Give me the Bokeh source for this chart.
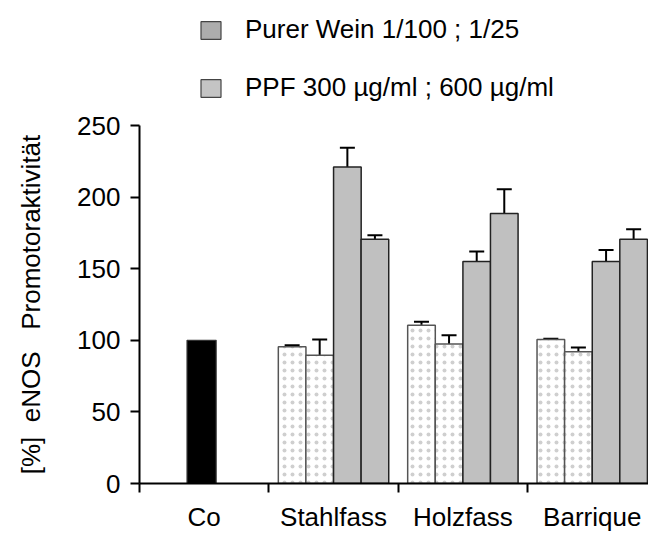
from bokeh.plotting import figure
from bokeh.layouts import column
from bokeh.models import (ColumnDataSource, Range1d, FixedTicker, Whisker, TeeHead,
                          Legend, LegendItem)
from bokeh.embed import file_html
from bokeh.resources import INLINE

# ---------------- data ----------------
categories = ["Co", "Stahlfass", "Holzfass", "Barrique"]
co_value = [100]
wein_groups = ["Stahlfass", "Holzfass", "Barrique"]
wein_1_100 = [95.5, 110.5, 100.5]
wein_1_100_err = [1.0, 2.5, 0.5]
wein_1_25 = [89.5, 97.5, 92.0]
wein_1_25_err = [11.0, 6.0, 3.0]
ppf_300 = [221.0, 155.0, 155.0]
ppf_300_err = [13.5, 7.0, 8.0]
ppf_600 = [170.5, 188.5, 170.5]
ppf_600_err = [2.8, 17.0, 7.0]
y_ticks = [0, 50, 100, 150, 200, 250]
legend_labels = ["Purer Wein 1/100 ; 1/25", "PPF 300 \u00b5g/ml ; 600 \u00b5g/ml"]
y_label = "[%]\u00a0 eNOS \u00a0\u00a0Promotoraktivit\u00e4t"

FONT = "Liberation Sans"

# ---------------- layout helpers ----------------
bar_w = 0.2135
offsets = [-0.32, -0.107, 0.107, 0.32]
grp_idx = [categories.index(g) + 0.5 for g in wein_groups]

# ---------------- legend strip ----------------
leg = figure(width=648, height=110, output_backend="svg", toolbar_location=None,
             x_range=Range1d(0, 1), y_range=Range1d(0, 1),
             x_axis_type=None, y_axis_type=None,
             min_border_left=0, min_border_right=0, min_border_top=0, min_border_bottom=0)
leg.outline_line_color = None
leg.xgrid.visible = False
leg.ygrid.visible = False
leg.background_fill_color = "white"
leg.border_fill_color = "white"
nan = float("nan")
r1 = leg.vbar(x=[0.5], top=[nan], width=0.2, fill_color="#adadad", line_color="#444444",
              line_width=1.2)
r2 = leg.vbar(x=[0.5], top=[nan], width=0.2, fill_color="#c4c4c4", line_color="#444444",
              line_width=1.2)
legend = Legend(items=[LegendItem(label=legend_labels[0], renderers=[r1]),
                       LegendItem(label=legend_labels[1], renderers=[r2])],
                location=(59, 7), glyph_width=25, glyph_height=22, label_standoff=22,
                spacing=27, padding=0, margin=0, border_line_color=None,
                background_fill_alpha=0, label_text_font=FONT, label_text_font_size="26px",
                label_text_color="black")
leg.add_layout(legend)

# ---------------- main chart ----------------
p = figure(width=648, height=424, output_backend="svg", toolbar_location=None,
           x_range=Range1d(0, 3.935), y_range=Range1d(0, 250),
           min_border_left=139, min_border_right=0, min_border_top=15,
           min_border_bottom=50)
p.outline_line_color = None
p.xgrid.visible = False
p.ygrid.visible = False
p.background_fill_color = "white"
p.border_fill_color = "white"

# Co bar
co_x = [categories.index("Co") + 0.5 - 0.02]
p.vbar(x=co_x, top=co_value, width=0.225, fill_color="black", line_color="#333333",
       line_width=1.2)

series = [
    (wein_1_100, wein_1_100_err, "white", "#555555", True),
    (wein_1_25, wein_1_25_err, "white", "#555555", True),
    (ppf_300, ppf_300_err, "#c0c0c0", "#222222", False),
    (ppf_600, ppf_600_err, "#c0c0c0", "#222222", False),
]
for k, (vals, errs, fc, lc, hatched) in enumerate(series):
    xs = [g + offsets[k] for g in grp_idx]
    src = ColumnDataSource(dict(x=xs, top=vals, upper=[v + e for v, e in zip(vals, errs)]))
    kw = dict(fill_color=fc, line_color=lc, line_width=1.5)
    if hatched:
        kw.update(hatch_pattern="dot", hatch_color="#cfcfcf", hatch_scale=8, hatch_weight=0.5)
    p.vbar(x="x", top="top", width=bar_w, source=src, **kw)
    w = Whisker(source=src, base="x", lower="top", upper="upper", dimension="height",
                lower_head=None, upper_head=TeeHead(size=15, line_width=2, line_color="black"),
                line_width=2, line_color="black")
    p.add_layout(w)

# y axis
ya = p.yaxis[0]
ya.ticker = FixedTicker(ticks=y_ticks)
ya.major_tick_out = 9
ya.major_tick_in = 0
ya.minor_tick_line_color = None
ya.axis_line_width = 2
ya.major_tick_line_width = 2
ya.axis_line_color = "black"
ya.major_tick_line_color = "black"
ya.major_label_text_font = FONT
ya.major_label_text_font_size = "26px"
ya.major_label_text_color = "black"
ya.major_label_standoff = 10
ya.axis_label = y_label
ya.axis_label_text_font = FONT
ya.axis_label_text_font_size = "26px"
ya.axis_label_text_font_style = "normal"
ya.axis_label_text_color = "black"
ya.axis_label_standoff = 28

# x axis
xa = p.xaxis[0]
xa.ticker = FixedTicker(ticks=[i + 0.5 for i in range(len(categories))],
                        minor_ticks=[float(i) for i in range(len(categories) + 1)])
xa.major_label_overrides = {i + 0.5: c for i, c in enumerate(categories)}
xa.major_tick_line_color = None
xa.major_tick_out = 9
xa.major_tick_in = 0
xa.minor_tick_out = 9
xa.minor_tick_in = 0
xa.minor_tick_line_width = 2
xa.minor_tick_line_color = "black"
xa.axis_line_width = 2
xa.axis_line_color = "black"
xa.major_label_text_font = FONT
xa.major_label_text_font_size = "26px"
xa.major_label_text_color = "black"
xa.major_label_standoff = 9

layout = column(leg, p, spacing=0)
open("out.html", "w").write(file_html(layout, INLINE))
